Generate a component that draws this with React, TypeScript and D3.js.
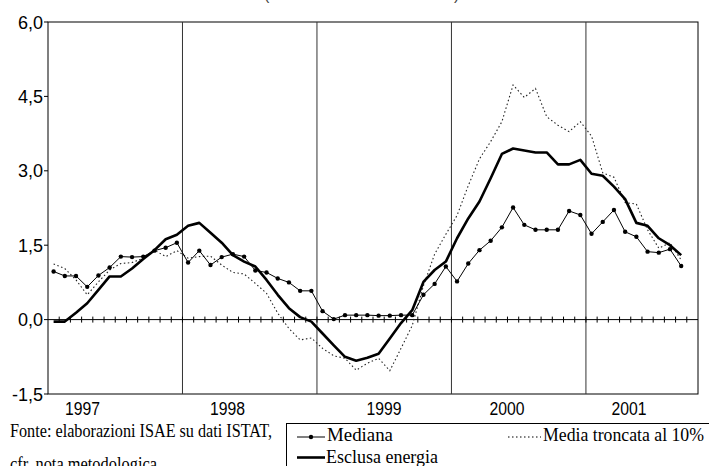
import React from "react";
import * as d3 from "d3";

const months = d3.range(58); // Jan 1997 .. Oct 2001 categories
const yearLabels = ["1997", "1998", "1999", "2000", "2001"];
const yearLabelX = [82.5, 227.5, 384, 507, 629];
const yearBoundaries = [12, 24, 36, 48];
const yTicks = [-1.5, 0, 1.5, 3.0, 4.5, 6.0];

const mediana = [
  0.97, 0.88, 0.88, 0.66, 0.89, 1.05, 1.27, 1.26, 1.27, 1.39, 1.45, 1.55,
  1.15, 1.39, 1.1, 1.26, 1.32, 1.27, 0.99, 0.95, 0.83, 0.75, 0.58, 0.58,
  0.17, 0.01, 0.09, 0.09, 0.09, 0.08, 0.08, 0.09, 0.09, 0.5, 0.72, 1.07,
  0.77, 1.13, 1.4, 1.59, 1.86, 2.26, 1.91, 1.81, 1.81, 1.81, 2.19, 2.11,
  1.73, 1.97, 2.21, 1.77, 1.67, 1.37, 1.35, 1.42, 1.08,
];
const esclusaEnergia = [
  -0.04, -0.04, 0.14, 0.33, 0.6, 0.87, 0.87, 1.03, 1.22, 1.4, 1.62, 1.71,
  1.89, 1.95, 1.75, 1.55, 1.3, 1.17, 1.07, 0.8, 0.5, 0.23, 0.05, -0.04,
  -0.28, -0.52, -0.75, -0.83, -0.77, -0.69, -0.38, -0.07, 0.19, 0.76, 1.0, 1.17,
  1.64, 2.04, 2.38, 2.85, 3.34, 3.45, 3.41, 3.37, 3.37, 3.13, 3.13, 3.22,
  2.94, 2.9, 2.68, 2.43, 1.95, 1.89, 1.64, 1.5, 1.3,
];
const mediaTroncata = [
  1.12, 1.03, 0.8, 0.5, 0.76, 1.0, 1.13, 1.15, 1.24, 1.4, 1.27, 1.39,
  1.24, 1.27, 1.28, 1.1, 0.95, 0.92, 0.73, 0.53, 0.13, -0.18, -0.41, -0.37,
  -0.58, -0.73, -0.78, -1.02, -0.88, -0.78, -1.03, -0.58, -0.12, 0.68, 1.32, 1.72,
  2.1, 2.7, 3.24, 3.59, 3.99, 4.73, 4.48, 4.66, 4.09, 3.92, 3.79, 3.99,
  3.7, 2.96, 2.87, 2.36, 2.33, 1.81, 1.44, 1.55, 1.2,
];

const W = 709;
const H = 466;
const left = 48;
const right = 698;
const top = 22;
const bottom = 394;

export default function App() {
  const x = d3.scaleBand<number>().domain(months).range([left, right]).padding(0);
  const cx = (i: number) => (x(i) as number) + x.bandwidth() / 2;
  const y = d3.scaleLinear().domain([-1.5, 6]).range([bottom, top]);
  const line = d3
    .line<number>()
    .x((_, i) => cx(i))
    .y((d) => y(d));

  const sans = "Liberation Sans, Arial, sans-serif";
  const serif = "Liberation Serif, DejaVu Serif, Times New Roman, serif";

  return (
    <svg
      width={W}
      height={H}
      style={{ position: "absolute", left: 0, top: 0, background: "#fff" }}
    >
      <rect x={0} y={0} width={W} height={H} fill="#fff" />
      {/* title fragments cut off at top */}
      <text x={264} y={0} fontFamily={sans} fontSize={16} fill="#444">(</text>
      <text x={454} y={0} fontFamily={sans} fontSize={16} fill="#444">)</text>

      {/* frame */}
      <rect
        x={left}
        y={top}
        width={right - left}
        height={bottom - top}
        fill="none"
        stroke="#000"
        strokeWidth={1}
      />
      {/* year separators */}
      {yearBoundaries.map((b) => (
        <line
          key={b}
          x1={x(b) as number}
          x2={x(b) as number}
          y1={top}
          y2={bottom}
          stroke="#333"
          strokeWidth={1}
        />
      ))}
      {/* y ticks and labels */}
      {yTicks.map((t) => (
        <g key={t}>
          <line x1={left - 4} x2={left} y1={y(t)} y2={y(t)} stroke="#000" />
          <text
            x={43}
            y={y(t) + 6.5}
            textAnchor="end"
            fontFamily={sans}
            fontSize={18}
            fill="#000"
          >
            {t.toFixed(1).replace(".", ",")}
          </text>
        </g>
      ))}
      {/* zero line with month ticks */}
      <line x1={left} x2={right} y1={y(0)} y2={y(0)} stroke="#000" strokeWidth={1} />
      {months.slice(1).map((m) => (
        <line
          key={m}
          x1={x(m) as number}
          x2={x(m) as number}
          y1={y(0) - 3}
          y2={y(0) + 3}
          stroke="#000"
          strokeWidth={1}
        />
      ))}
      {/* year labels */}
      {yearLabels.map((l, i) => (
        <text
          key={l}
          x={yearLabelX[i] - 17.5}
          y={414.5}
          fontFamily={sans}
          fontSize={18}
          textLength={35}
          lengthAdjust="spacingAndGlyphs"
          fill="#000"
        >
          {l}
        </text>
      ))}

      {/* series */}
      <path
        d={line(mediaTroncata) || ""}
        fill="none"
        stroke="#222"
        strokeWidth={1.1}
        strokeDasharray="1.5 2.5"
      />
      <path
        d={line(esclusaEnergia) || ""}
        fill="none"
        stroke="#000"
        strokeWidth={2.6}
        strokeLinejoin="round"
      />
      <path d={line(mediana) || ""} fill="none" stroke="#000" strokeWidth={1} />
      {mediana.map((v, i) => (
        <circle key={i} cx={cx(i)} cy={y(v)} r={2.2} fill="#000" />
      ))}

      {/* source */}
      <text
        x={10}
        y={436.7}
        fontFamily={serif}
        fontSize={19}
        textLength={262}
        lengthAdjust="spacingAndGlyphs"
        fill="#000"
      >
        Fonte: elaborazioni ISAE su dati ISTAT,
      </text>
      <text
        x={10}
        y={470}
        fontFamily={serif}
        fontSize={19}
        textLength={147}
        lengthAdjust="spacingAndGlyphs"
        fill="#000"
      >
        cfr. nota metodologica
      </text>

      {/* legend */}
      <rect x={286.5} y={423.5} width={440} height={80} fill="#fff" stroke="#000" strokeWidth={1} />
      <line x1={297} x2={325} y1={437} y2={437} stroke="#000" strokeWidth={1} />
      <circle cx={311} cy={437} r={2.2} fill="#000" />
      <text
        x={327}
        y={441}
        fontFamily={serif}
        fontSize={19}
        textLength={66}
        lengthAdjust="spacingAndGlyphs"
        fill="#000"
      >
        Mediana
      </text>
      <line x1={297} x2={325} y1={457.5} y2={457.5} stroke="#000" strokeWidth={2.6} />
      <text
        x={326}
        y={462.5}
        fontFamily={serif}
        fontSize={19}
        textLength={112}
        lengthAdjust="spacingAndGlyphs"
        fill="#000"
      >
        Esclusa energia
      </text>
      <line
        x1={508}
        x2={541}
        y1={437}
        y2={437}
        stroke="#000"
        strokeWidth={1.1}
        strokeDasharray="1.5 2.5"
      />
      <text
        x={543}
        y={441}
        fontFamily={serif}
        fontSize={19}
        textLength={161}
        lengthAdjust="spacingAndGlyphs"
        fill="#000"
      >
        Media troncata al 10%
      </text>
    </svg>
  );
}
